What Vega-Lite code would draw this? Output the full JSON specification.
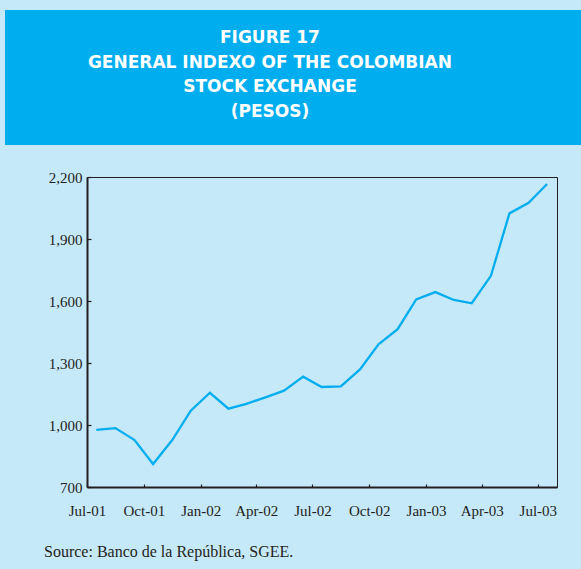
{
  "$schema": "https://vega.github.io/schema/vega-lite/v6.json",
  "background": "#C6E9FA",
  "padding": {"left": 5, "top": 10, "right": 0, "bottom": 12},
  "spacing": 24,
  "config": {"view": {"stroke": null}},
  "vconcat": [
    {
      "width": 576,
      "height": 135,
      "view": {"fill": "#00AEEF", "stroke": null},
      "data": {"values": [
        {"line": 1, "text": "FIGURE 17"},
        {"line": 2, "text": "GENERAL INDEXO OF THE COLOMBIAN"},
        {"line": 3, "text": "STOCK EXCHANGE"},
        {"line": 4, "text": "(PESOS)"}
      ]},
      "mark": {"type": "text", "font": "DejaVu Sans", "fontWeight": "bold", "fontSize": 17, "color": "white", "align": "center", "baseline": "middle"},
      "encoding": {
        "x": {"datum": 0, "type": "quantitative", "scale": {"domain": [-0.92, 1.08], "nice": false, "zero": false}, "axis": null},
        "y": {"field": "line", "type": "quantitative", "scale": {"domain": [-0.15, 5.34], "reverse": true, "nice": false, "zero": false}, "axis": null},
        "text": {"field": "text"}
      }
    },
    {
      "spacing": 0,
      "hconcat": [
        {
          "width": 1,
          "height": 310,
          "view": {"fill": "#C6E9FA", "stroke": null},
          "data": {"values": []},
          "mark": "point"
        },
        {
          "width": 470,
          "height": 310,
          "view": {"stroke": "#231F20", "strokeWidth": 1, "fill": "#C6E9FA"},
          "title": {"text": "Source: Banco de la República, SGEE.", "orient": "bottom", "anchor": "start", "frame": "group", "dx": -43, "offset": 26, "font": "Liberation Serif", "fontSize": 16, "fontWeight": "normal", "color": "#231F20"},
          "data": {"values": [
            {"date": "2001-07-16", "index": 976},
            {"date": "2001-08-16", "index": 985},
            {"date": "2001-09-16", "index": 927},
            {"date": "2001-10-16", "index": 811},
            {"date": "2001-11-16", "index": 927},
            {"date": "2001-12-16", "index": 1069},
            {"date": "2002-01-16", "index": 1156},
            {"date": "2002-02-15", "index": 1079},
            {"date": "2002-03-16", "index": 1102},
            {"date": "2002-04-16", "index": 1134},
            {"date": "2002-05-16", "index": 1166},
            {"date": "2002-06-16", "index": 1234},
            {"date": "2002-07-16", "index": 1184},
            {"date": "2002-08-16", "index": 1187},
            {"date": "2002-09-16", "index": 1269},
            {"date": "2002-10-16", "index": 1390},
            {"date": "2002-11-16", "index": 1464},
            {"date": "2002-12-16", "index": 1608},
            {"date": "2003-01-16", "index": 1643},
            {"date": "2003-02-15", "index": 1605},
            {"date": "2003-03-16", "index": 1589},
            {"date": "2003-04-16", "index": 1722},
            {"date": "2003-05-16", "index": 2024},
            {"date": "2003-06-16", "index": 2075},
            {"date": "2003-07-16", "index": 2166}
          ]},
          "mark": {"type": "line", "color": "#00AEEF", "strokeWidth": 2.3},
          "encoding": {
            "x": {
              "field": "date", "type": "temporal",
              "scale": {"type": "utc", "nice": false, "domain": [
                {"year": 2001, "month": 7, "date": 1, "utc": true},
                {"year": 2003, "month": 8, "date": 1, "utc": true}
              ]},
              "axis": {
                "title": null, "grid": false,
                "values": [
                  {"year": 2001, "month": 7, "date": 1, "utc": true},
                  {"year": 2001, "month": 10, "date": 1, "utc": true},
                  {"year": 2002, "month": 1, "date": 1, "utc": true},
                  {"year": 2002, "month": 4, "date": 1, "utc": true},
                  {"year": 2002, "month": 7, "date": 1, "utc": true},
                  {"year": 2002, "month": 10, "date": 1, "utc": true},
                  {"year": 2003, "month": 1, "date": 1, "utc": true},
                  {"year": 2003, "month": 4, "date": 1, "utc": true},
                  {"year": 2003, "month": 7, "date": 1, "utc": true}
                ],
                "labelExpr": "utcFormat(datum.value, '%b-%y')",
                "domainColor": "#231F20", "domainWidth": 2,
                "tickColor": "#231F20", "tickWidth": 1.2, "tickSize": -3,
                "labelFont": "Liberation Serif", "labelFontSize": 15, "labelColor": "#231F20",
                "labelPadding": 19, "labelFlush": false, "labelOverlap": false
              }
            },
            "y": {
              "field": "index", "type": "quantitative",
              "scale": {"domain": [700, 2200], "nice": false, "zero": false},
              "axis": {
                "title": null, "grid": false,
                "values": [700, 1000, 1300, 1600, 1900, 2200],
                "format": ",d",
                "domainColor": "#231F20", "domainWidth": 2,
                "tickColor": "#231F20", "tickWidth": 1.2, "tickSize": -4,
                "labelFont": "Liberation Serif", "labelFontSize": 15, "labelColor": "#231F20",
                "labelPadding": 9, "minExtent": 80
              }
            }
          }
        }
      ]
    }
  ]
}
